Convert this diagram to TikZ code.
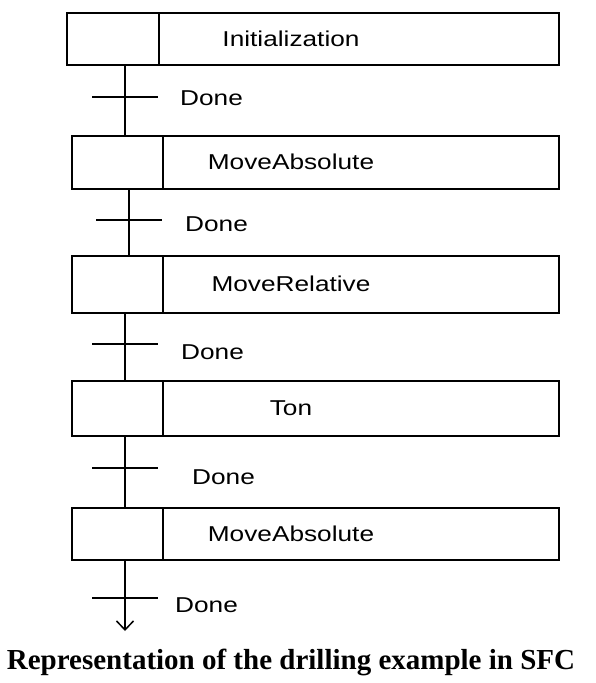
\documentclass[tikz,border=0pt]{standalone}
\usepackage{fontspec}
\newfontfamily\sfcfont[FakeStretch=1.22]{Liberation Sans}
\newfontfamily\capfont{Liberation Serif}
\usetikzlibrary{arrows.meta}

\tikzset{
  stepbox/.style={draw, line width=1.6pt, minimum width=487pt, anchor=north west, inner sep=0pt},
  lab/.style={font=\sfcfont\fontsize{21.5}{24}\selectfont, inner sep=0pt},
  link/.style={line width=1.5pt},
}

\begin{document}
\begin{tikzpicture}[x=1pt,y=-1pt]
      \useasboundingbox (0,0) rectangle (596,683);
      %%%%%%%%%%%%%%%%%%%%%%%%%%%%%%%%%%%%%%%%%%%%%%%
      \node[stepbox, minimum width=492pt, minimum height=52pt] at (66,12)  (s1) {};
      \node[stepbox, minimum height=53pt] at (71,135) (s2) {};
      \node[stepbox, minimum height=57pt] at (71,255) (s3) {};
      \node[stepbox, minimum height=55pt] at (71,380) (s4) {};
      \node[stepbox, minimum height=52pt] at (71,507) (s5) {};
      \draw[link] (s1.north west) ++(93,0) -- ++(0,52)
                  (s2.north west) ++(92,0) -- ++(0,53)
                  (s3.north west) ++(92,0) -- ++(0,57)
                  (s4.north west) ++(92,0) -- ++(0,55)
                  (s5.north west) ++(92,0) -- ++(0,52);
      \node[lab] at (s1.center -| 291,0) (a1) {Initialization};
      \node[lab] at (s2.center -| 291,0) (a2) {MoveAbsolute};
      \node[lab] at (s3.center -| 291,0) (a3) {MoveRelative};
      \node[lab] at (s4.center -| 291,0) (a4) {Ton};
      \node[lab] at (s5.center -| 291,0) (a5) {MoveAbsolute};
      %%%%%%%%%%%%%%%%%%%%%%%%%%%%%%%%%%%%%%%%%%%%%%%
      \coordinate (t1) at (125,97);
      \coordinate (t2) at (129,220);
      \coordinate (t3) at (125,344);
      \coordinate (t4) at (125,468);
      \coordinate (t5) at (125,598);
      \coordinate (e5) at (125,631);
      \draw[link] (s1.south -| t1) -- (s2.north -| t1)
                  (s2.south -| t2) -- (s3.north -| t2)
                  (s3.south -| t3) -- (s4.north -| t3)
                  (s4.south -| t4) -- (s5.north -| t4)
                  ([xshift=-33pt]t1) -- ([xshift=33pt]t1)
                  ([xshift=-33pt]t2) -- ([xshift=33pt]t2)
                  ([xshift=-33pt]t3) -- ([xshift=33pt]t3)
                  ([xshift=-33pt]t4) -- ([xshift=33pt]t4)
                  ([xshift=-33pt]t5) -- ([xshift=33pt]t5);
      \draw[link, -{Straight Barb[length=9pt,width=17pt]}] (s5.south -| e5) -- (e5);
      %%%%%%%%%%%%%%%%%%%%%%%%%%%%%%%%%%%%%%%%%%%%%%%
      \node[lab, anchor=west] at (180,98)  (d1) {Done};
      \node[lab, anchor=west] at (185,224) (d2) {Done};
      \node[lab, anchor=west] at (181,352) (d3) {Done};
      \node[lab, anchor=west] at (192,477) (d4) {Done};
      \node[lab, anchor=west] at (175,605) (d5) {Done};
      %%%%%%%%%%%%%%%%%%%%%%%%%%%%%%%%%%%%%%%%%%%%%%%
      \node[font=\capfont\bfseries\fontsize{29}{32}\selectfont, anchor=base, inner sep=0pt] at (291,669) (cap) {Representation of the drilling example in SFC};
\end{tikzpicture}
\end{document}
